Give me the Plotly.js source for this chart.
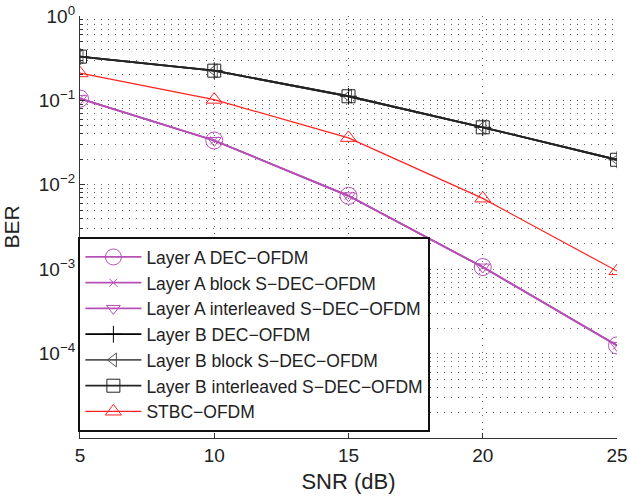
<!DOCTYPE html>
<html><head><meta charset="utf-8">
<script src="https://cdn.plot.ly/plotly-3.0.1.min.js"></script>
<style>html,body{margin:0;padding:0;background:#fff;}#chart{width:629px;height:496px;}</style>
</head><body><div id="chart"></div>
<script>
const snr = [5, 10, 15, 20, 25];
const layerA_dec = [0.105, 0.0335, 0.0074, 0.00106, 0.000125];
const layerA_block = [0.105, 0.0335, 0.0074, 0.00106, 0.000125];
const layerA_inter = [0.105, 0.0335, 0.0074, 0.00106, 0.000125];
const layerB_dec = [0.33, 0.225, 0.112, 0.048, 0.0198];
const layerB_block = [0.33, 0.225, 0.112, 0.048, 0.0198];
const layerB_inter = [0.33, 0.225, 0.112, 0.048, 0.0198];
const stbc = [0.21, 0.102, 0.036, 0.0069, 0.00095];
const yTickVals = [1e-4, 1e-3, 1e-2, 1e-1, 1];
const yTickText = ['10<sup>\u22124</sup>', '10<sup>\u22123</sup>', '10<sup>\u22122</sup>', '10<sup>\u22121</sup>', '10<sup>0</sup>'];
const xTickVals = [5, 10, 15, 20, 25];
const names = ['Layer A DEC\u2212OFDM', 'Layer A block S\u2212DEC\u2212OFDM', 'Layer A interleaved S\u2212DEC\u2212OFDM',
  'Layer B DEC\u2212OFDM', 'Layer B block S\u2212DEC\u2212OFDM', 'Layer B interleaved S\u2212DEC\u2212OFDM', 'STBC\u2212OFDM'];

const purple = '#B650B6';
const minorVals = [];
for (let e = -5; e < 0; e++) for (let k = 2; k <= 9; k++) minorVals.push(k * Math.pow(10, e));

function tr(y, name, color, symbol, size, lw) {
  return {x: snr, y: y, name: name, type: 'scatter', mode: 'lines+markers',
    line: {color: color, width: lw},
    marker: {symbol: symbol, size: size, color: color, line: {color: color, width: 1}}};
}
const data = [
  tr(layerA_dec, names[0], purple, 'circle-open', 17, 1.7),
  tr(layerA_block, names[1], purple, 'x-thin-open', 8, 1.7),
  tr(layerA_inter, names[2], purple, 'triangle-down-open', 12, 1.7),
  tr(layerB_dec, names[3], '#000', 'cross-thin-open', 12, 1.8),
  tr(layerB_block, names[4], '#555', 'triangle-left-open', 12, 1.8),
  tr(layerB_inter, names[5], '#222', 'square-open', 13, 1.8),
  tr(stbc, names[6], '#FF2020', 'triangle-up-open', 14, 1.2)
];
const gridDash = '1px,6px';
const layout = {
  width: 629, height: 496,
  margin: {l: 80, r: 12, t: 16, b: 58},
  paper_bgcolor: '#fff', plot_bgcolor: '#fff',
  font: {family: 'Liberation Sans, Arial, sans-serif', size: 19, color: '#222'},
  showlegend: true,
  xaxis: {range: [5, 25], tickmode: 'array', tickvals: xTickVals,
    showgrid: true, gridcolor: '#666', griddash: gridDash, gridwidth: 1,
    zeroline: false, showline: true, linecolor: '#333', linewidth: 1.2,
    ticks: 'inside', ticklen: 5, tickcolor: '#333',
    title: {text: 'SNR (dB)', font: {size: 22}, standoff: 8}},
  yaxis: {type: 'log', range: [-5, 0], tickmode: 'array', tickvals: yTickVals, ticktext: yTickText,
    showgrid: true, gridcolor: '#666', griddash: gridDash, gridwidth: 1,
    zeroline: false, showline: true, linecolor: '#333', linewidth: 1.2,
    ticks: 'inside', ticklen: 5, tickcolor: '#333',
    minor: {tickmode: 'array', tickvals: minorVals, showgrid: true, gridcolor: '#666', griddash: gridDash, gridwidth: 1,
      ticks: 'inside', ticklen: 3, tickcolor: '#333'},
    title: {text: 'BER', font: {size: 21}, standoff: 14}},
  legend: {x: -0.003, y: 0.014, xanchor: 'left', yanchor: 'bottom', bgcolor: '#fff',
    bordercolor: '#111', borderwidth: 2, font: {size: 17.5, color: '#222'}, tracegroupgap: 0, itemwidth: 56}
};
Plotly.newPlot('chart', data, layout, {displayModeBar: false});
</script></body></html>
